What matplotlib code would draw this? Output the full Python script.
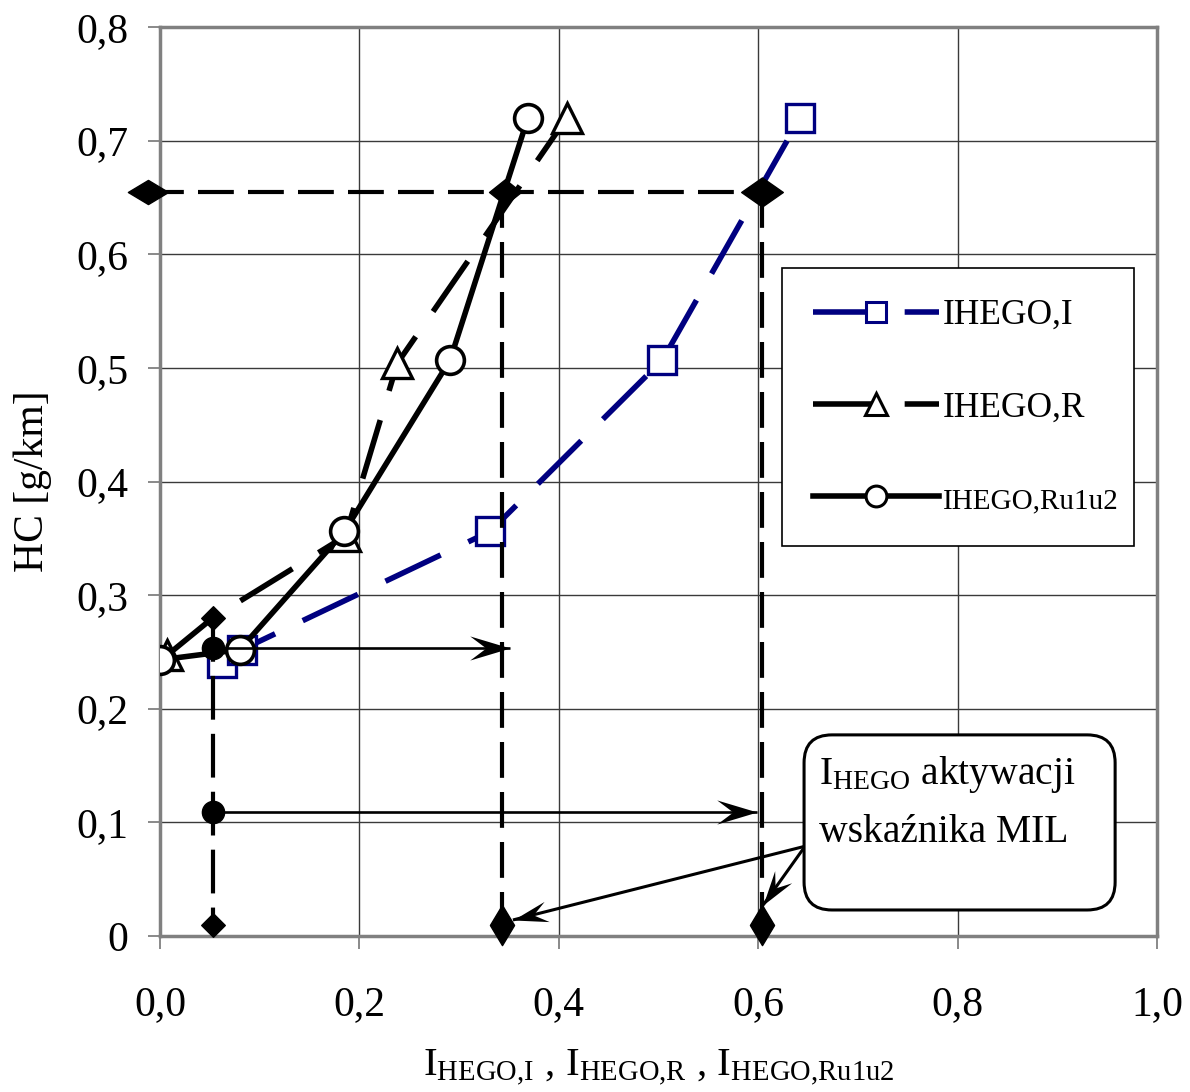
import matplotlib
matplotlib.use('Agg')
import matplotlib.pyplot as plt
import numpy as np
from matplotlib.lines import Line2D
from matplotlib.markers import MarkerStyle
from matplotlib.path import Path
from matplotlib.transforms import Affine2D
from matplotlib.patches import FancyBboxPatch

plt.rcParams['font.family'] = ['Liberation Serif', 'DejaVu Serif']
plt.rcParams['mathtext.fontset'] = 'custom'
plt.rcParams['mathtext.rm'] = 'Liberation Serif'
plt.rcParams['mathtext.default'] = 'regular'

# ---------------- data ----------------
x_I = [0.062, 0.082, 0.331, 0.504, 0.642]
y_I = [0.240, 0.252, 0.356, 0.507, 0.720]

x_R = [0.007, 0.053, 0.186, 0.238, 0.408]
y_R = [0.247, 0.280, 0.352, 0.504, 0.720]
R_marked = [0, 2, 3, 4]

x_Ru = [0.000, 0.080, 0.185, 0.291, 0.369]
y_Ru = [0.243, 0.252, 0.356, 0.507, 0.720]

series_labels = ['IHEGO,I', 'IHEGO,R', 'IHEGO,Ru1u2']

# MIL activation readings
hc_level = 0.655
x_mil = [0.343, 0.604]
x_start = 0.053
y_start_top = 0.280
hline_left = -0.012
y_floor = 0.0097
arrow_y = [0.2535, 0.109]
arrow_x_end = [0.351, 0.599]

callout_lines = ['$I_{HEGO}$ aktywacji', 'wskaźnika MIL']
callout_from = (0.647, 0.079)
callout_to_x = [0.354, 0.605]
callout_to_y = [0.0141, 0.0273]

x_ticks = [0.0, 0.2, 0.4, 0.6, 0.8, 1.0]
x_ticklabels = ['0,0', '0,2', '0,4', '0,6', '0,8', '1,0']
y_ticks = [0.0, 0.1, 0.2, 0.3, 0.4, 0.5, 0.6, 0.7, 0.8]
y_ticklabels = ['0', '0,1', '0,2', '0,3', '0,4', '0,5', '0,6', '0,7', '0,8']

xlabel = '$I_{HEGO{,}I}$ , $I_{HEGO{,}R}$ , $I_{HEGO{,}Ru1u2}$'
ylabel = 'HC [g/km]'

# ---------------- figure ----------------
fig = plt.figure(figsize=(11.9, 10.92), dpi=100)
ax = fig.add_axes([160 / 1190, 1 - 936 / 1092, 997 / 1190, 909 / 1092])
ax.set_xlim(0, 1.0)
ax.set_ylim(0, 0.8)

NAVY = '#000080'
FS = 30

ax.set_xticks(x_ticks)
ax.set_xticklabels(x_ticklabels)
ax.set_yticks(y_ticks)
ax.set_yticklabels(y_ticklabels)
ax.tick_params(axis='x', direction='out', length=9, width=1.3, color='#808080',
               labelsize=FS, pad=27)
ax.tick_params(axis='y', direction='out', length=9, width=1.3, color='#808080',
               labelsize=FS, pad=14)
ax.grid(True, color='#3a3a3a', lw=1.0, zorder=0)
ax.set_axisbelow(True)
for sp in ax.spines.values():
    sp.set_color('#808080')
    sp.set_linewidth(2.5)

ax.set_xlabel(xlabel, fontsize=29.5, va='center')
ax.xaxis.set_label_coords(0.5, (936 - 1068) / 909)
ax.set_ylabel(ylabel, fontsize=FS, va='center')
ax.yaxis.set_label_coords((33 - 160) / 997, 0.5)

LW = 4.0
SER_DASH = (11, 5.5)

# series I
ax.plot(x_I, y_I, color=NAVY, lw=LW, dashes=SER_DASH, zorder=3,
        marker='s', ms=20, mfc='white', mec=NAVY, mew=2.4)
# series R (line through all points, markers on measured ones)
ax.plot(x_R, y_R, color='black', lw=LW, dashes=SER_DASH, zorder=3.1)
ax.plot([x_R[i] for i in R_marked], [y_R[i] for i in R_marked], ls='none',
        marker='^', ms=21, mfc='white', mec='black', mew=2.4, zorder=3.2)
# series Ru1u2
ax.plot(x_Ru, y_Ru, color='black', lw=LW, zorder=3.3,
        marker='o', ms=20, mfc='white', mec='black', mew=2.6)

# ---------------- annotation lines ----------------
ADASH = (8.6, 3.4)
ALW = 3.0


def diamond(w, h):
    verts = [(-w, 0), (0, h), (w, 0), (0, -h), (-w, 0)]
    codes = [Path.MOVETO, Path.LINETO, Path.LINETO, Path.LINETO, Path.CLOSEPOLY]
    return Path(verts, codes)


ax.plot([hline_left, x_mil[1]], [hc_level, hc_level], color='black', lw=ALW,
        dashes=ADASH, zorder=4, clip_on=False)
for xm in x_mil:
    ax.plot([xm, xm], [hc_level, y_floor], color='black', lw=ALW, dashes=ADASH, zorder=4)
ax.plot([x_start, x_start], [y_start_top, y_floor], color='black', lw=ALW,
        dashes=(10.5, 3.4), zorder=4)

ax.plot([hline_left], [hc_level], ls='none', marker=diamond(1, 0.6), ms=29,
        color='black', zorder=5, clip_on=False)
ax.plot([0.346], [hc_level], ls='none', marker=diamond(1, 0.8), ms=23,
        color='black', zorder=5)
ax.plot([x_mil[1]], [hc_level], ls='none', marker=diamond(1, 0.7), ms=30,
        color='black', zorder=5)
ax.plot(x_mil, [y_floor, y_floor], ls='none', marker=diamond(0.6, 1), ms=29,
        color='black', zorder=5, clip_on=False)
ax.plot([x_start, x_start], [y_start_top, y_floor], ls='none', marker=diamond(1, 1),
        ms=17, color='black', zorder=5, clip_on=False)

# filled start points and arrows
ax.plot([x_start] * len(arrow_y), arrow_y, ls='none', marker='o', ms=16,
        color='black', zorder=5)


def stealth(angle_deg):
    verts = [(0, 0), (-1, 0.3), (-0.6, 0), (-1, -0.3), (0, 0)]
    codes = [Path.MOVETO, Path.LINETO, Path.LINETO, Path.LINETO, Path.CLOSEPOLY]
    return MarkerStyle(Path(verts, codes), transform=Affine2D().rotate_deg(angle_deg))


def arrow(x0, y0, x1, y1, lw, ms):
    ax.plot([x0, x1], [y0, y1], color='black', lw=lw, zorder=5,
            solid_capstyle='butt', clip_on=False)
    p0 = ax.transData.transform((x0, y0))
    p1 = ax.transData.transform((x1, y1))
    ang = np.degrees(np.arctan2(p1[1] - p0[1], p1[0] - p0[0]))
    ax.plot([x1], [y1], ls='none', marker=stealth(ang), ms=ms, color='black',
            mew=0, zorder=6, clip_on=False)


for yy, xe in zip(arrow_y, arrow_x_end):
    arrow(x_start, yy, xe, yy, 1.9, 58)

for xe, ye in zip(callout_to_x, callout_to_y):
    arrow(callout_from[0], callout_from[1], xe, ye, 2.2, 50)

# callout box
box = FancyBboxPatch((0.646, 0.0229), 0.958 - 0.646, 0.177 - 0.0229,
                     boxstyle='round,pad=0,rounding_size=0.028',
                     mutation_aspect=997 / 1136, fc='white', ec='black', lw=2.2,
                     zorder=7)
ax.add_patch(box)
ax.text(0.661, 0.1338, callout_lines[0], fontsize=28.5, va='baseline', ha='left', zorder=8)
ax.text(0.661, 0.0827, callout_lines[1], fontsize=28.5, va='baseline', ha='left', zorder=8)

# legend
handles = [
    Line2D([], [], color=NAVY, lw=LW, dashes=SER_DASH, marker='s', ms=15,
           mfc='white', mec=NAVY, mew=2.2),
    Line2D([], [], color='black', lw=LW, dashes=SER_DASH, marker='^', ms=16,
           mfc='white', mec='black', mew=2.2),
    Line2D([], [], color='black', lw=LW, marker='o', ms=15,
           mfc='white', mec='black', mew=2.2),
]
leg = ax.legend(handles, series_labels, loc='upper left',
                bbox_to_anchor=(0.624, 0.430, 0.353, 0.305), mode='expand',
                borderaxespad=0, fontsize=25.5, numpoints=1, handlelength=3.56,
                handletextpad=0.1, labelspacing=1.68, borderpad=0.88,
                fancybox=False, framealpha=1, edgecolor='black')
leg.get_frame().set_linewidth(1.2)
leg.get_texts()[2].set_fontsize(21)
leg.set_zorder(9)

fig.savefig('out.png', dpi=100)
